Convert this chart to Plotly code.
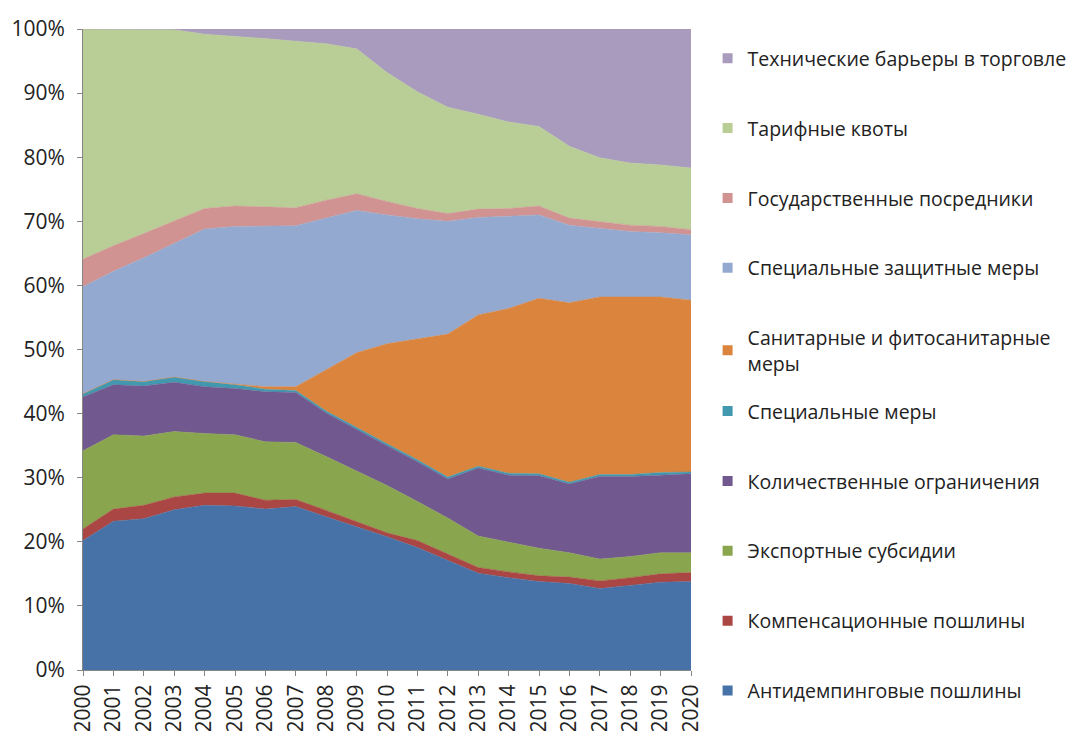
import plotly.graph_objects as go

years = list(range(2000, 2021))

antidumping = [20.2, 23.2, 23.6, 25.0, 25.7, 25.6, 25.1, 25.5, 23.9, 22.4, 20.8, 19.1, 17.1, 15.1, 14.4, 13.8, 13.5, 12.7, 13.2, 13.7, 13.8]
countervailing = [1.8, 1.9, 2.1, 2.0, 1.9, 2.0, 1.4, 1.1, 1.0, 0.8, 0.6, 1.1, 1.0, 0.9, 0.9, 0.9, 1.0, 1.2, 1.2, 1.3, 1.4]
export_subsidies = [12.2, 11.6, 10.8, 10.2, 9.3, 9.1, 9.1, 8.9, 8.4, 7.9, 7.4, 6.1, 5.6, 4.9, 4.7, 4.3, 3.8, 3.4, 3.3, 3.3, 3.1]
quantitative = [8.4, 7.8, 7.8, 7.7, 7.3, 7.2, 7.8, 7.8, 6.8, 6.4, 6.2, 6.2, 6.1, 10.6, 10.4, 11.3, 10.7, 12.9, 12.5, 12.1, 12.3]
special_measures = [0.5, 0.8, 0.7, 0.8, 0.8, 0.6, 0.4, 0.3, 0.3, 0.3, 0.3, 0.3, 0.3, 0.3, 0.3, 0.3, 0.3, 0.3, 0.3, 0.4, 0.3]
sps = [0, 0, 0, 0, 0, 0.1, 0.4, 0.6, 6.4, 11.7, 15.6, 18.8, 22.3, 23.6, 25.7, 27.4, 28.0, 27.7, 27.7, 27.4, 26.8]
safeguards = [16.7, 16.9, 19.3, 20.8, 23.8, 24.6, 25.0, 25.1, 23.7, 22.2, 20.1, 18.8, 17.6, 15.2, 14.4, 13.0, 12.1, 10.7, 10.2, 10.0, 10.2]
state_trading = [4.3, 4.0, 3.8, 3.6, 3.2, 3.2, 3.0, 2.8, 2.8, 2.6, 2.1, 1.6, 1.2, 1.3, 1.2, 1.4, 1.1, 1.1, 1.0, 1.0, 0.8]
tariff_quotas = [35.9, 33.8, 31.9, 29.8, 27.2, 26.5, 26.3, 26.0, 24.4, 22.6, 20.1, 18.2, 16.6, 14.8, 13.5, 12.4, 11.2, 9.9, 9.7, 9.6, 9.6]
tbt = [0, 0, 0, 0.1, 0.8, 1.1, 1.5, 1.9, 2.3, 3.1, 6.8, 9.8, 12.2, 13.3, 14.5, 15.2, 18.3, 20.1, 20.9, 21.2, 21.7]

series_names = [
    "Антидемпинговые пошлины",
    "Компенсационные пошлины",
    "Экспортные субсидии",
    "Количественные ограничения",
    "Специальные меры",
    "Санитарные и фитосанитарные<br>меры",
    "Специальные защитные меры",
    "Государственные посредники",
    "Тарифные квоты",
    "Технические барьеры в торговле",
]
series_values = [antidumping, countervailing, export_subsidies, quantitative, special_measures,
                 sps, safeguards, state_trading, tariff_quotas, tbt]
colors = ["#4672A8", "#AA4643", "#89A54E", "#71588F", "#4198AF",
          "#DB843D", "#93A9CF", "#D19392", "#B9CD96", "#A99BBD"]

FONT = "Open Sans, Liberation Sans, Arial, sans-serif"

fig = go.Figure()
for name, vals, col in zip(series_names, series_values, colors):
    fig.add_trace(go.Scatter(
        x=years, y=vals, mode="lines", stackgroup="one", groupnorm="percent",
        line=dict(width=0.5, color=col), fillcolor=col, name=name, showlegend=False,
        hoverinfo="x+y+name",
    ))

# legend entries, top of the stack first; split in two legends to keep even spacing
for i in reversed(range(len(series_names))):
    fig.add_trace(go.Scatter(
        x=[None], y=[None], mode="markers", name=series_names[i],
        marker=dict(symbol="square", size=10, color=colors[i]),
        legendgroup=f"g{9 - i:02d}", showlegend=True,
        legend="legend" if i >= 5 else "legend2",
    ))

legend_common = dict(
    x=0.652, xref="container", xanchor="left", yref="container", yanchor="top",
    traceorder="grouped", tracegroupgap=41.5,
    font=dict(family=FONT, size=19.5, color="#222222"),
    itemwidth=30, bgcolor="rgba(0,0,0,0)",
)

fig.update_layout(
    width=1073, height=723,
    margin=dict(l=75, r=390, t=21, b=61, autoexpand=False),
    paper_bgcolor="white", plot_bgcolor="white",
    font=dict(family=FONT, size=20, color="#222222"),
    legend=dict(y=0.957, **legend_common),
    legend2=dict(y=0.469, **legend_common),
    xaxis=dict(
        range=[2000, 2020], tickmode="array", tickvals=years,
        ticktext=[str(y) for y in years], tickangle=-90,
        showgrid=False, zeroline=False, showline=True, linecolor="#868686",
        ticks="outside", ticklen=5, tickcolor="#868686",
        tickfont=dict(family=FONT, size=21),
    ),
    yaxis=dict(
        range=[0, 100], tickmode="array", tickvals=list(range(0, 101, 10)),
        ticktext=[f"{v}%" for v in range(0, 101, 10)],
        showgrid=False, zeroline=False, showline=True, linecolor="#868686",
        ticks="outside", ticklen=5, tickcolor="#868686",
        tickfont=dict(family=FONT, size=21), ticklabelstandoff=8,
    ),
)

fig.write_html("out.html")
